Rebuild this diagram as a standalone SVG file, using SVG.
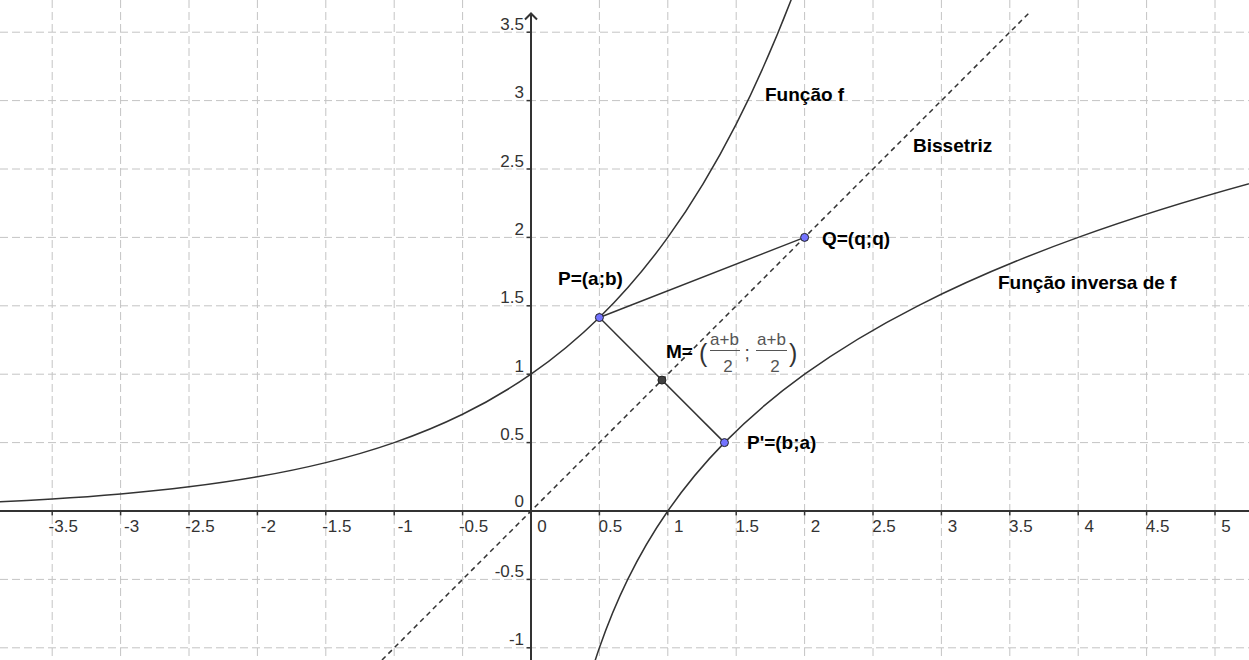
<svg xmlns="http://www.w3.org/2000/svg" width="1249" height="660" viewBox="0 0 1249 660">
<style>
.grid line{stroke:#c4c4c4;stroke-width:1;stroke-dasharray:8 4}
.axis{stroke:#333;stroke-width:2;fill:none}
.tick{stroke:#333;stroke-width:1.5}
.tl{font-family:"Liberation Sans",Arial,sans-serif;font-size:17px;fill:#333}
.xl{text-anchor:middle}
.yl{text-anchor:end}
.curve{fill:none;stroke:#333;stroke-width:1.5}
.lbl{font-family:"Liberation Sans",Arial,sans-serif;font-size:19px;font-weight:bold;fill:#000}
.frac{font-family:"Liberation Sans",Arial,sans-serif;font-size:17px;fill:#555;text-anchor:middle}
.par{font-family:"Liberation Sans",Arial,sans-serif;font-size:25px;fill:#333}
.pt{fill:#7373ff;stroke:#222;stroke-width:1}
</style>
<rect width="1249" height="660" fill="#fff"/>
<g id="grid" class="grid">
<line x1="52.2" y1="0" x2="52.2" y2="660"/>
<line x1="120.6" y1="0" x2="120.6" y2="660"/>
<line x1="189" y1="0" x2="189" y2="660"/>
<line x1="257.4" y1="0" x2="257.4" y2="660"/>
<line x1="325.8" y1="0" x2="325.8" y2="660"/>
<line x1="394.2" y1="0" x2="394.2" y2="660"/>
<line x1="462.6" y1="0" x2="462.6" y2="660"/>
<line x1="599.4" y1="0" x2="599.4" y2="660"/>
<line x1="667.8" y1="0" x2="667.8" y2="660"/>
<line x1="736.2" y1="0" x2="736.2" y2="660"/>
<line x1="804.6" y1="0" x2="804.6" y2="660"/>
<line x1="873" y1="0" x2="873" y2="660"/>
<line x1="941.4" y1="0" x2="941.4" y2="660"/>
<line x1="1009.8" y1="0" x2="1009.8" y2="660"/>
<line x1="1078.2" y1="0" x2="1078.2" y2="660"/>
<line x1="1146.6" y1="0" x2="1146.6" y2="660"/>
<line x1="1215" y1="0" x2="1215" y2="660"/>
<line x1="0" y1="647.8" x2="1249" y2="647.8"/>
<line x1="0" y1="579.4" x2="1249" y2="579.4"/>
<line x1="0" y1="442.6" x2="1249" y2="442.6"/>
<line x1="0" y1="374.2" x2="1249" y2="374.2"/>
<line x1="0" y1="305.8" x2="1249" y2="305.8"/>
<line x1="0" y1="237.4" x2="1249" y2="237.4"/>
<line x1="0" y1="169" x2="1249" y2="169"/>
<line x1="0" y1="100.6" x2="1249" y2="100.6"/>
<line x1="0" y1="32.2" x2="1249" y2="32.2"/>
</g>
<g id="axes">
<line class="axis" x1="0" y1="511" x2="1249" y2="511"/>
<line class="axis" x1="531" y1="13.5" x2="531" y2="660"/>
<polyline class="axis" points="525,19.5 531,13.5 537,19.5" stroke-width="1.5"/>
<g class="tick">
<line x1="52.2" y1="511" x2="52.2" y2="515.5"/>
<line x1="120.6" y1="511" x2="120.6" y2="515.5"/>
<line x1="189" y1="511" x2="189" y2="515.5"/>
<line x1="257.4" y1="511" x2="257.4" y2="515.5"/>
<line x1="325.8" y1="511" x2="325.8" y2="515.5"/>
<line x1="394.2" y1="511" x2="394.2" y2="515.5"/>
<line x1="462.6" y1="511" x2="462.6" y2="515.5"/>
<line x1="599.4" y1="511" x2="599.4" y2="515.5"/>
<line x1="667.8" y1="511" x2="667.8" y2="515.5"/>
<line x1="736.2" y1="511" x2="736.2" y2="515.5"/>
<line x1="804.6" y1="511" x2="804.6" y2="515.5"/>
<line x1="873" y1="511" x2="873" y2="515.5"/>
<line x1="941.4" y1="511" x2="941.4" y2="515.5"/>
<line x1="1009.8" y1="511" x2="1009.8" y2="515.5"/>
<line x1="1078.2" y1="511" x2="1078.2" y2="515.5"/>
<line x1="1146.6" y1="511" x2="1146.6" y2="515.5"/>
<line x1="1215" y1="511" x2="1215" y2="515.5"/>
<line x1="526.5" y1="647.8" x2="531" y2="647.8"/>
<line x1="526.5" y1="579.4" x2="531" y2="579.4"/>
<line x1="526.5" y1="442.6" x2="531" y2="442.6"/>
<line x1="526.5" y1="374.2" x2="531" y2="374.2"/>
<line x1="526.5" y1="305.8" x2="531" y2="305.8"/>
<line x1="526.5" y1="237.4" x2="531" y2="237.4"/>
<line x1="526.5" y1="169" x2="531" y2="169"/>
<line x1="526.5" y1="100.6" x2="531" y2="100.6"/>
<line x1="526.5" y1="32.2" x2="531" y2="32.2"/>
</g>
<g class="tl xl">
<text x="63.2" y="532">-3.5</text>
<text x="131.6" y="532">-3</text>
<text x="200" y="532">-2.5</text>
<text x="268.4" y="532">-2</text>
<text x="336.8" y="532">-1.5</text>
<text x="405.2" y="532">-1</text>
<text x="473.6" y="532">-0.5</text>
<text x="542" y="532">0</text>
<text x="610.4" y="532">0.5</text>
<text x="678.8" y="532">1</text>
<text x="747.2" y="532">1.5</text>
<text x="815.6" y="532">2</text>
<text x="884" y="532">2.5</text>
<text x="952.4" y="532">3</text>
<text x="1020.8" y="532">3.5</text>
<text x="1089.2" y="532">4</text>
<text x="1157.6" y="532">4.5</text>
<text x="1226" y="532">5</text>
</g>
<g class="tl yl">
<text x="524" y="645.3">-1</text>
<text x="524" y="576.9">-0.5</text>
<text x="524" y="507">0</text>
<text x="524" y="440.1">0.5</text>
<text x="524" y="371.7">1</text>
<text x="524" y="303.3">1.5</text>
<text x="524" y="234.9">2</text>
<text x="524" y="166.5">2.5</text>
<text x="524" y="98.1">3</text>
<text x="524" y="29.7">3.5</text>
</g>
</g>
<g id="connectors">
<line id="bissetriz" x1="382" y1="660" x2="1030" y2="12" stroke="#333" stroke-width="1.5" stroke-dasharray="5 4"/>
<path id="funcao-f" class="curve" d="M-16.2 502.45 C6.6 501.46 29.4 500.31 52.2 498.91 C75 497.51 97.8 495.88 120.6 493.9 C143.4 491.92 166.2 489.61 189 486.82 C211.8 484.02 234.6 480.75 257.4 476.8 C280.2 472.85 303 468.22 325.8 462.63 C348.6 457.05 371.4 450.5 394.2 442.6 C417 434.7 439.8 425.44 462.6 414.27 C485.4 403.09 508.2 390 531 374.2 C553.8 358.4 576.6 339.89 599.4 317.54 C622.2 295.19 645 269.01 667.8 237.4 C690.6 205.79 713.4 168.77 736.2 124.07 C759 79.37 781.8 27.02 804.6 -36.2"/>
<path id="funcao-inversa" class="curve" d="M579.37 716.2 C584.95 693.4 591.5 670.6 599.4 647.8 C607.3 625 616.56 602.2 627.73 579.4 C638.91 556.6 652 533.8 667.8 511 C683.6 488.2 702.11 465.4 724.46 442.6 C746.81 419.8 772.99 397 804.6 374.2 C836.21 351.4 873.23 328.6 917.93 305.8 C962.63 283 1014.98 260.2 1078.2 237.4 C1141.42 214.6 1215.46 191.8 1304.86 169"/>
<line id="seg-PQ" class="curve" x1="599.4" y1="317.54" x2="804.6" y2="237.4"/>
<line id="seg-PP" class="curve" x1="599.4" y1="317.54" x2="724.46" y2="442.6"/>
</g>
<g id="node-P"><circle class="pt" cx="599.4" cy="317.54" r="4"/><text class="lbl" x="558" y="285">P=(a;b)</text></g>
<g id="node-Q"><circle class="pt" cx="804.6" cy="237.4" r="4"/><text class="lbl" x="822" y="245">Q=(q;q)</text></g>
<g id="node-Pp"><circle class="pt" cx="724.46" cy="442.6" r="4"/><text class="lbl" x="747" y="449">P'=(b;a)</text></g>
<g id="node-M">
<circle cx="661.93" cy="380.07" r="4" fill="#404040" stroke="#222" stroke-width="1"/>
<text class="lbl" x="666" y="358">M=</text>
<text class="par" x="699" y="362">(</text>
<text class="frac" x="724.5" y="345">a+b</text>
<line x1="710" y1="350.5" x2="740" y2="350.5" stroke="#555" stroke-width="1"/>
<text class="frac" x="728" y="371.5">2</text>
<text x="744.5" y="359" font-family="Liberation Sans, Arial, sans-serif" font-size="19" fill="#444">;</text>
<text class="frac" x="771.5" y="345">a+b</text>
<line x1="756" y1="350.5" x2="787" y2="350.5" stroke="#555" stroke-width="1"/>
<text class="frac" x="775" y="371.5">2</text>
<text class="par" x="789" y="362">)</text>
</g>
<g id="labels">
<text class="lbl" x="765" y="100.5">Função f</text>
<text class="lbl" x="913" y="152">Bissetriz</text>
<text class="lbl" x="998" y="289">Função inversa de f</text>
</g>
</svg>
